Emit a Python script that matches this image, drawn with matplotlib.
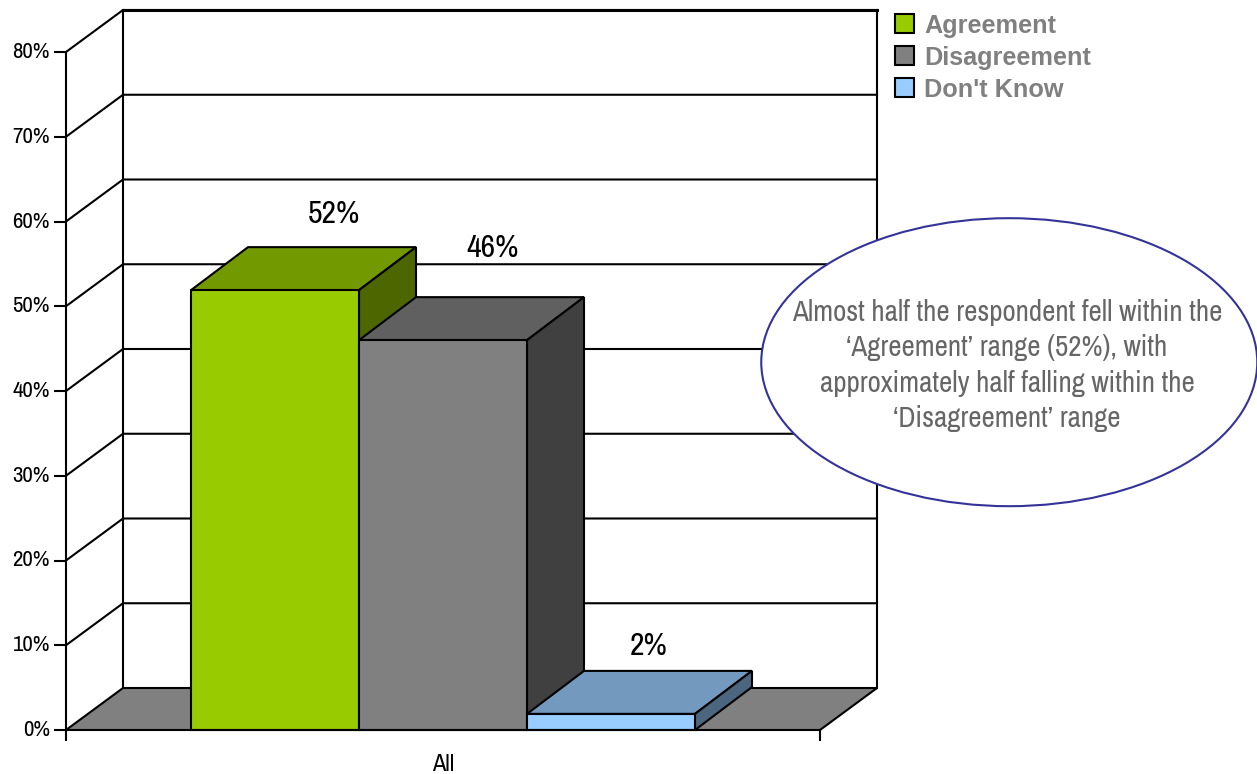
import matplotlib
matplotlib.use("Agg")
import matplotlib.pyplot as plt
from matplotlib.patches import Ellipse, Patch
from matplotlib.transforms import ScaledTranslation

categories = ["All"]
series = ["Agreement", "Disagreement", "Don't Know"]
values = [52, 46, 2]
bar_tops = [51.9, 46, 1.9]
front_colors = ["#99CC00", "#808080", "#99CCFF"]
top_colors = ["#739900", "#606060", "#7399BF"]
side_colors = ["#4D6600", "#404040", "#4D6680"]
y_ticks = [0, 10, 20, 30, 40, 50, 60, 70, 80]
note_lines = ["Almost half the respondent fell within the",
              "\u2018Agreement\u2019 range (52%), with",
              "approximately half falling within the",
              "\u2018Disagreement\u2019 range"]

NARROW = ["Archivo Narrow", "Liberation Sans", "DejaVu Sans"]
W, H = 1257, 774
DX = 57 / 754    # depth of the 3d box, x units
DY = 42 / 84.75 * 10    # depth of the 3d box, y units
BAR_DY = 43 / 84.75 * 10    # bars come out a touch deeper than the walls
BAR_W = 168 / 754
BAR_START = 125 / 754
LW = 1.5

fig = plt.figure(figsize=(W / 100, H / 100), dpi=100)
ax = fig.add_axes([66 / W, (H - 730) / H, 754 / W, 678 / H])
ax.set_xlim(0, 1)
ax.set_ylim(0, 80)
for s in ["top", "right"]:
    ax.spines[s].set_visible(False)
for s in ["left", "bottom"]:
    ax.spines[s].set_linewidth(LW)
    ax.spines[s].set_zorder(6)
ax.patch.set_visible(False)

# floor, back wall, side wall
ax.fill([0, DX, 1 + DX, 1], [0, DY, DY, 0], color="#808080", lw=0, clip_on=False, zorder=1)
ax.plot([0, DX, 1 + DX, 1], [0, DY, DY, 0], color="black", lw=LW, clip_on=False, zorder=1)
for t in y_ticks[1:]:
    ax.plot([0, DX, 1 + DX], [t, t + DY, t + DY], color="black", lw=LW, clip_on=False, zorder=1)
ax.plot([DX, DX], [DY, 80 + DY], color="black", lw=LW, clip_on=False, zorder=1)
ax.plot([1 + DX, 1 + DX], [DY, 80 + DY], color="black", lw=LW, clip_on=False, zorder=1)
ax.plot([DX, 1 + DX], [80 + DY, 80 + DY], color="black", lw=2.2, clip_on=False, zorder=1)

# bars, drawn left to right so each one covers the side of the last
for i, v in enumerate(bar_tops):
    x0 = BAR_START + i * BAR_W
    x1 = x0 + BAR_W
    z = 2 + i
    ax.fill([x0, x0 + DX, x1 + DX, x1], [v, v + BAR_DY, v + BAR_DY, v],
            facecolor=top_colors[i], edgecolor="black", lw=LW, clip_on=False, zorder=z)
    ax.fill([x1, x1 + DX, x1 + DX, x1], [0, BAR_DY, v + BAR_DY, v],
            facecolor=side_colors[i], edgecolor="black", lw=LW, clip_on=False, zorder=z)
    ax.bar(x0, v, width=BAR_W, align="edge", color=front_colors[i], edgecolor="black",
           lw=LW, clip_on=False, zorder=z)

# value labels sit by hand above each bar in the original
label_gap = [4.0, 5.9, 3.1]
label_shift = [2 / 754, -7 / 754, -19 / 754]
for i, v in enumerate(bar_tops):
    x = BAR_START + (i + 0.5) * BAR_W + DX + label_shift[i]
    ax.text(x, v + DY + label_gap[i], f"{values[i]}%", ha="center", va="center",
            fontsize=23, family=NARROW, color="black", zorder=7)

ax.set_yticks(y_ticks, [f"{t}%" for t in y_ticks], family=NARROW, fontsize=16.5)
ax.tick_params(axis="y", length=8.5, width=LW, pad=3)
up = ScaledTranslation(0, 2 / 100, fig.dpi_scale_trans)
for lab in ax.get_yticklabels():
    lab.set_transform(lab.get_transform() + up)
ax.set_xticks([0.5], categories, family=NARROW, fontsize=17.5)
ax.tick_params(axis="x", which="major", length=0, pad=17)
ax.set_xticks([0, 1], minor=True)
ax.tick_params(axis="x", which="minor", length=8, width=LW)

# callout
ax.add_patch(Ellipse((1.251, 43.4), 496 / 754, 288 / 84.75 * 10, facecolor="white",
                     edgecolor="#333399", lw=1.5, clip_on=False, zorder=8))
ax.text(1.248, 43.0, "\n".join(note_lines), ha="center", va="center", fontsize=20.9,
        family=NARROW, color="#666666", linespacing=1.375, zorder=9)

handles = [Patch(facecolor=c, edgecolor="black", lw=LW) for c in front_colors]
leg = fig.legend(handles, series, loc="upper left", bbox_to_anchor=(887 / W, 1 - 6 / H),
                 frameon=False, prop={"family": "Liberation Sans", "weight": "bold", "size": 18.2},
                 handlelength=0.78, handleheight=0.78, handletextpad=0.39,
                 labelspacing=0.32, borderpad=0.3, borderaxespad=0)
for t in leg.get_texts():
    t.set_color("#808080")

fig.savefig("out.png", dpi=100)
